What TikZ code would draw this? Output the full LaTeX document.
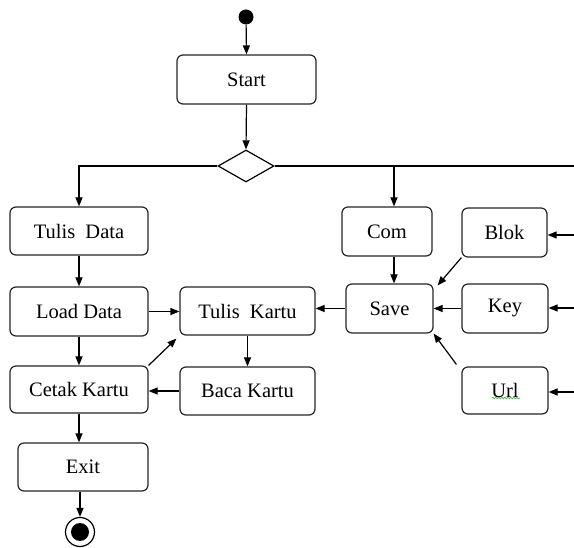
\documentclass[tikz,border=0pt]{standalone}
\usepackage{fontspec}
\setmainfont{Liberation Serif}
\usetikzlibrary{arrows.meta,shapes.geometric,decorations.pathmorphing}
\begin{document}
\begin{tikzpicture}[x=1pt,y=-1pt,
  box/.style={draw=black!85,line width=1.2pt,rounded corners=6pt,inner sep=0pt,
    font=\fontsize{20.5}{23}\selectfont},
  arr/.style={line width=1.2pt,-{Triangle[length=9pt,width=7pt]}},
  ln/.style={line width=1.2pt},
  squig/.style={draw=green!55!black!70,line width=0.7pt,decorate,
    decoration={snake,amplitude=0.8pt,segment length=3pt}}]
\path[use as bounding box,fill=white] (0,0) rectangle (574,548);
% initial and final
\node[circle,fill=black,minimum size=15pt,inner sep=0pt] (init) at (246,17) {};
\node[circle,draw=black,line width=1.2pt,minimum size=29pt,inner sep=0pt] (fin) at (80,532) {};
\node[circle,fill=black,minimum size=18pt,inner sep=0pt] (finin) at (80,532) {};
% boxes
\node[box,minimum width=139pt,minimum height=49pt] (start) at (246.5,79.5) {Start};
\node[diamond,draw=black,line width=1.2pt,minimum width=56pt,minimum height=32pt,inner sep=0pt] (dia) at (246,166) {};
\node[box,minimum width=138pt,minimum height=48pt] (td) at (79,231) {Tulis~ Data};
\node[box,minimum width=138pt,minimum height=49pt] (ld) at (79,311.5) {Load Data};
\node[box,minimum width=138pt,minimum height=47pt] (ck) at (79,389.5) {Cetak Kartu};
\node[box,minimum width=130pt,minimum height=48pt] (exit) at (83,467) {Exit};
\node[box,minimum width=135pt,minimum height=48pt] (tk) at (247.5,311) {Tulis~ Kartu};
\node[box,minimum width=135pt,minimum height=48pt] (bk) at (247.5,391) {Baca Kartu};
\node[box,minimum width=90pt,minimum height=49pt] (com) at (387,231.5) {Com};
\node[box,minimum width=87pt,minimum height=49pt] (save) at (389.5,308.5) {Save};
\node[box,minimum width=85pt,minimum height=49pt] (blok) at (504.5,232.5) {Blok};
\node[box,minimum width=86pt,minimum height=49pt] (key) at (505,308.5) {Key};
\node[box,minimum width=86pt,minimum height=47pt] (url) at (505,390.5) {Url};
\draw[squig] ([shift={(-13,7.5)}]url.center) -- ([shift={(15,7.5)}]url.center);
% coordinates
\coordinate (rend) at (574,166);
\coordinate (cbr) at (394,166);
\coordinate (rb) at (574,235);
\coordinate (rk) at (574,308);
\coordinate (ru) at (574,392);
% connectors
\draw[arr] (init) -- (start.north);
\draw[arr] (start.south) -- (dia.north);
\draw[arr] (dia.west) -| (td.north);
\draw[ln] (dia.east) -- (rend);
\draw[arr] (cbr) -- (cbr |- com.north);
\draw[arr] (td.south) -- (ld.north);
\draw[arr] (ld.south) -- (ck.north);
\draw[arr] (ck.south) -- (ck.south |- exit.north);
\draw[arr] (fin |- exit.south) -- (fin.north);
\draw[arr] (ld.east) -- (ld.east -| tk.west);
\draw[arr] (ck.north east) -- ([shift={(-3,3)}]tk.south west);
\draw[arr] (tk.south) -- (bk.north);
\draw[arr] (bk.west) -- (bk.west -| ck.east);
\draw[arr] (cbr |- com.south) -- (cbr |- save.north);
\draw[arr] (save.west) -- (save.west -| tk.east);
\draw[arr] (key.west) -- (key.west -| save.east);
\draw[arr] (blok.south west) -- ([shift={(4,2)}]save.north east);
\draw[arr] ([shift={(-5,-2)}]url.north west) -- (save.south east);
\draw[arr] (rb) -- (rb -| blok.east);
\draw[arr] (rk) -- (rk -| key.east);
\draw[arr] (ru) -- (ru -| url.east);
\end{tikzpicture}
\end{document}
